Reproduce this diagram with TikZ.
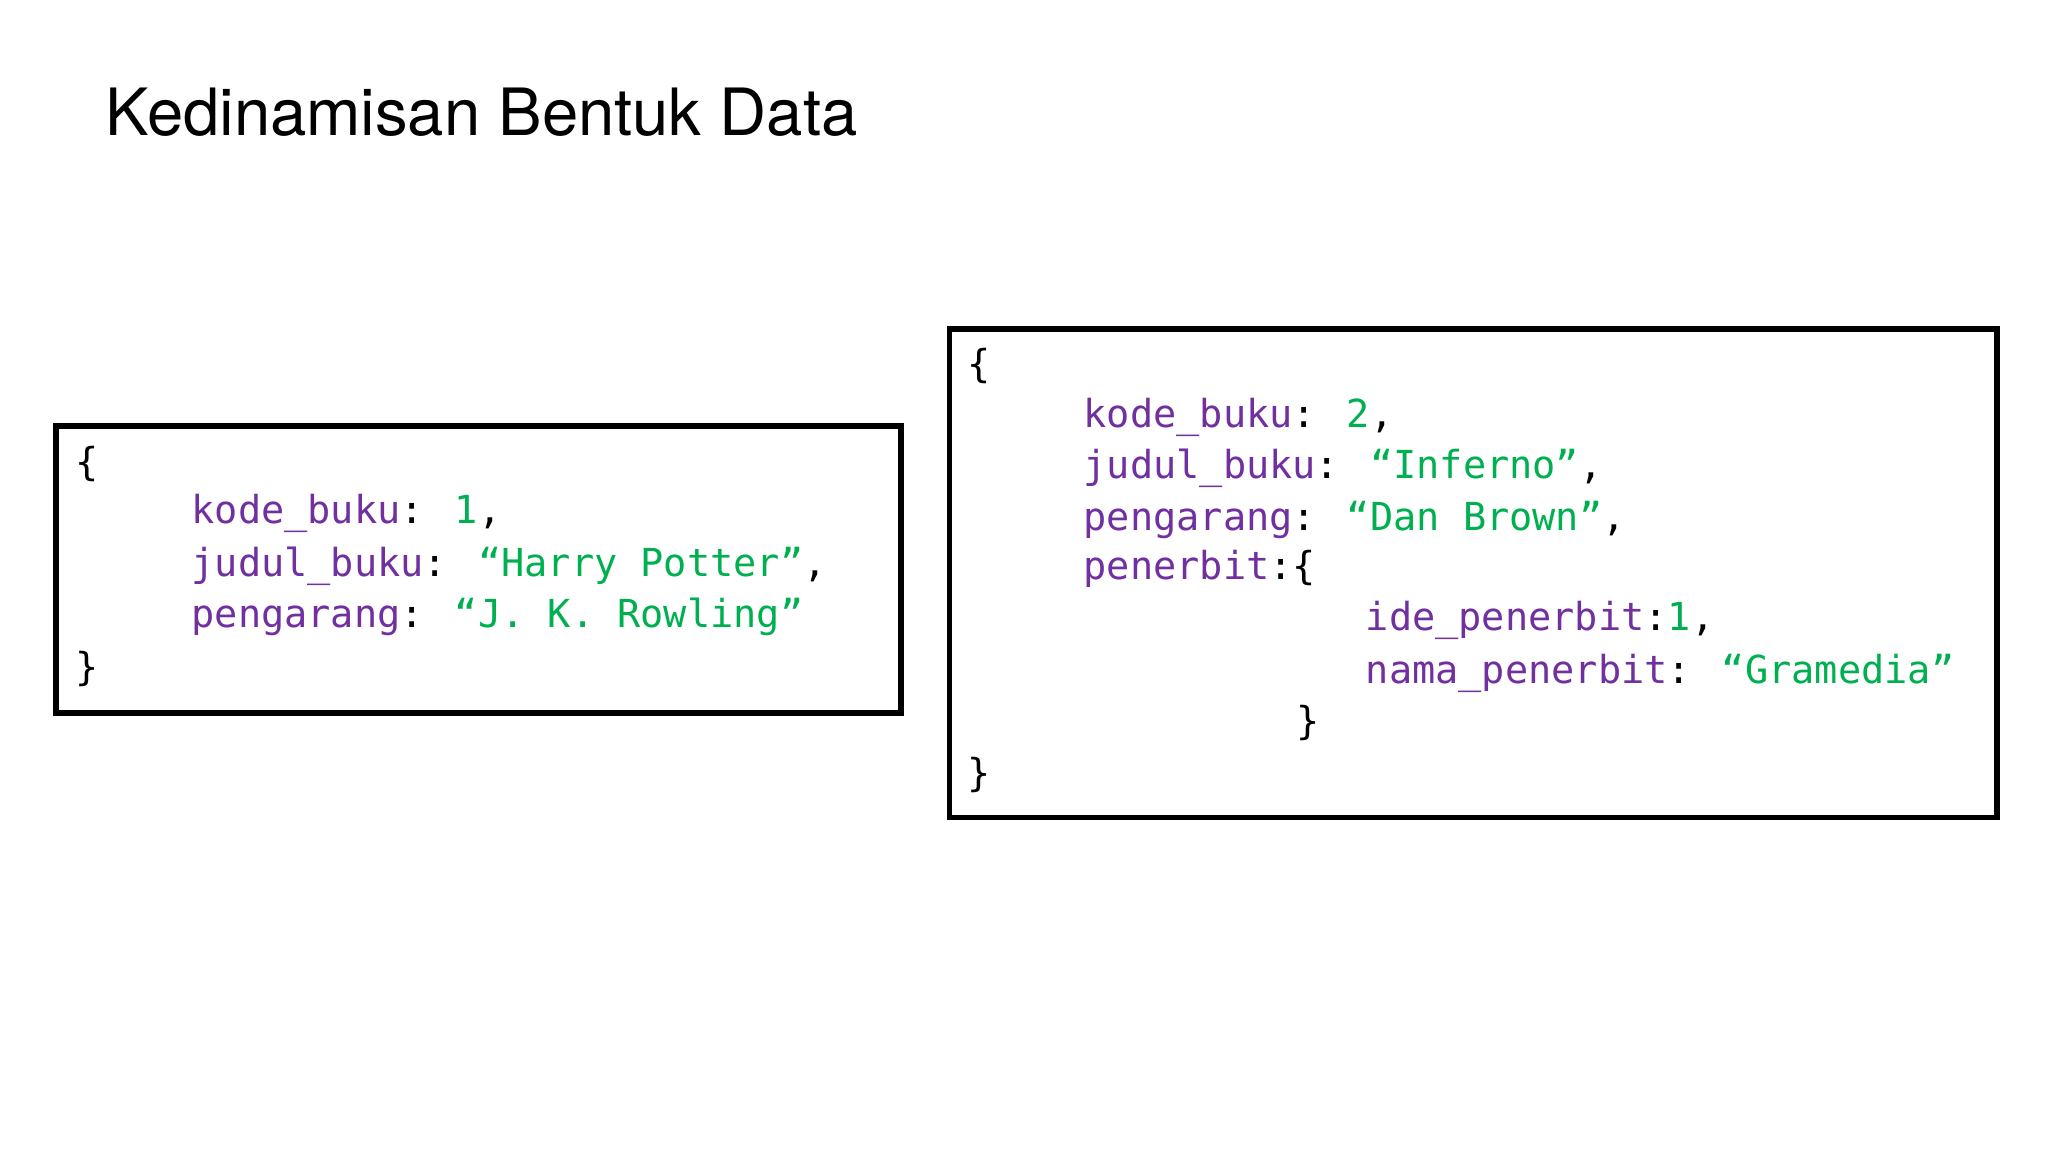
\documentclass[tikz,border=0pt]{standalone}
\usepackage{fontspec}
\setmainfont{TeX Gyre Heros}
\newfontfamily\codefont{DejaVu Sans Mono}
\definecolor{kp}{RGB}{112,48,160}
\definecolor{kg}{RGB}{0,176,80}
\begin{document}
\begin{tikzpicture}[x=0.01cm,y=-0.01cm,
  codeline/.style={anchor=west,inner sep=0pt,font=\codefont\fontsize{8.4}{10}\selectfont,text height=1.6ex,text depth=0.4ex},
  frame/.style={draw=black,line width=1.2pt}]
\useasboundingbox (0,0) rectangle (1568,882);
\node[anchor=west,inner sep=0pt,font=\fontsize{14.2}{18}\selectfont] (title) at (80,86) {Kedinamisan Bentuk Data};
\draw[frame] (43,326) rectangle (690,546);
\draw[frame] (727,252) rectangle (1529,626);
% left
\node[codeline] (l0) at (57,353) {\{};
\node[codeline] (l1) at (146,390) {\textcolor{kp}{kode\_buku}: \textcolor{kg}{1},};
\node[codeline] (l2) at (146,430) {\textcolor{kp}{judul\_buku}: \textcolor{kg}{“Harry Potter”},};
\node[codeline] (l3) at (146,469) {\textcolor{kp}{pengarang}: \textcolor{kg}{“J. K. Rowling”}};
\node[codeline] (l4) at (57,510) {\}};
% right
\node[codeline] (r0) at (740,278) {\{};
\node[codeline] (r1) at (829,316) {\textcolor{kp}{kode\_buku}: \textcolor{kg}{2},};
\node[codeline] (r2) at (829,355) {\textcolor{kp}{judul\_buku}: \textcolor{kg}{“Inferno”},};
\node[codeline] (r3) at (829,395) {\textcolor{kp}{pengarang}: \textcolor{kg}{“Dan Brown”},};
\node[codeline] (r4) at (829,433) {\textcolor{kp}{penerbit}:\{};
\node[codeline] (r5) at (1045,472) {\textcolor{kp}{ide\_penerbit}:\textcolor{kg}{1},};
\node[codeline] (r6) at (1045,512) {\textcolor{kp}{nama\_penerbit}: \textcolor{kg}{“Gramedia”}};
\node[codeline] (r7) at (992,551) {\}};
\node[codeline] (r8) at (740,591) {\}};
\end{tikzpicture}
\end{document}
